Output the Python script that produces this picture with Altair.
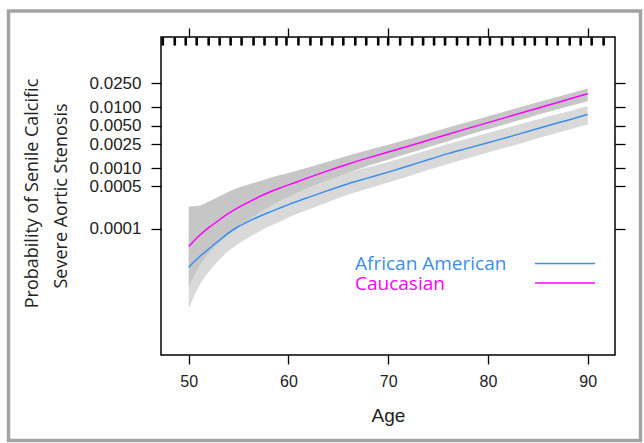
import altair as alt
import pandas as pd

# ---- data (log10 of probability) ----
ages = [50, 51, 52, 53, 54, 55, 56, 57, 58, 59, 60, 62, 64, 66, 68, 70, 72, 74, 76, 78, 80, 82, 84, 86, 88, 90]

cau_fit = [-4.29, -4.12, -3.98, -3.86, -3.745, -3.645, -3.56, -3.475, -3.40, -3.335, -3.275, -3.155, -3.04, -2.93,
           -2.83, -2.735, -2.64, -2.54, -2.44, -2.345, -2.25, -2.155, -2.06, -1.965, -1.87, -1.774]
cau_hi = [-3.63, -3.62, -3.55, -3.47, -3.39, -3.32, -3.27, -3.22, -3.165, -3.12, -3.08, -2.99, -2.89, -2.79, -2.70,
          -2.615, -2.525, -2.43, -2.33, -2.24, -2.145, -2.055, -1.96, -1.87, -1.78, -1.69]
cau_lo = [-4.95, -4.63, -4.40, -4.24, -4.09, -3.96, -3.85, -3.74, -3.64, -3.55, -3.47, -3.32, -3.195, -3.075, -2.96,
          -2.86, -2.76, -2.655, -2.555, -2.455, -2.36, -2.265, -2.17, -2.075, -1.985, -1.896]

aa_fit = [-4.63, -4.47, -4.33, -4.195, -4.065, -3.96, -3.875, -3.80, -3.73, -3.665, -3.60, -3.48, -3.365, -3.255,
          -3.16, -3.065, -2.965, -2.86, -2.76, -2.67, -2.58, -2.49, -2.395, -2.30, -2.21, -2.116]
aa_hi = [-3.95, -3.99, -3.95, -3.86, -3.76, -3.68, -3.615, -3.55, -3.495, -3.445, -3.39, -3.28, -3.17, -3.07, -2.985,
         -2.90, -2.80, -2.70, -2.60, -2.51, -2.42, -2.33, -2.24, -2.15, -2.065, -1.98]
aa_lo = [-5.31, -4.95, -4.71, -4.52, -4.36, -4.24, -4.14, -4.05, -3.965, -3.89, -3.81, -3.68, -3.555, -3.435, -3.335,
         -3.235, -3.135, -3.03, -2.93, -2.835, -2.74, -2.65, -2.555, -2.46, -2.37, -2.28]

rug_ages = [47.4, 48.6, 49.7, 50.8, 52.0, 53.1, 54.2, 55.3, 56.5, 57.6, 58.8, 59.8, 61.0, 62.2, 63.3, 64.4, 65.5,
            66.7, 67.8, 69.0, 70.0, 71.2, 72.4, 73.5, 74.6, 75.7, 76.9, 78.0, 79.2, 80.2, 81.4, 82.5, 83.7, 84.7,
            85.9, 87.0, 88.2, 89.3, 90.4, 91.6]

groups = ["African American", "Caucasian"]
line_colors = ["#3a8ef0", "#ff00ff"]
x_ticks = [50, 60, 70, 80, 90]
y_ticks = [0.0001, 0.0005, 0.001, 0.0025, 0.005, 0.01, 0.025]
y_title_lines = ["Probability of Senile Calcific", "Severe Aortic Stenosis"]

# ---- tables ----
rows = []
for g, fit, lo, hi in [("African American", aa_fit, aa_lo, aa_hi), ("Caucasian", cau_fit, cau_lo, cau_hi)]:
    for a, f, l, h in zip(ages, fit, lo, hi):
        rows.append({"age": a, "group": g, "fit": 10 ** f, "lo": 10 ** l, "hi": 10 ** h})
df = pd.DataFrame(rows)
rug_df = pd.DataFrame({"age": rug_ages})
one_df = pd.DataFrame({"k": [0]})

W, H = 454, 318
L, T = 161, 37
x_scale = alt.Scale(domain=[47.22, 92.74], nice=False, zero=False)
y_scale = alt.Scale(type="log", domain=[8.4e-7, 0.1445], nice=False)

axis_common = dict(domain=False, grid=False, tickColor="black", tickWidth=1.3)

x_bottom = alt.Axis(values=x_ticks, orient="bottom", tickSize=9, labelFont="Liberation Sans", labelFontSize=16,
                    labelColor="#222", labelPadding=9, titleFont="Liberation Sans", titleFontSize=19,
                    titleFontWeight="normal", titleColor="#222", titleY=66, titleBaseline="alphabetic",
                    **axis_common)
y_left = alt.Axis(values=y_ticks, orient="left", format=".4f", tickSize=10, labelFont="Liberation Sans",
                  labelFontSize=17, labelColor="#222", labelPadding=10, **axis_common)
x_top = alt.Axis(values=x_ticks, orient="top", tickSize=9, labels=False, **axis_common)
y_right = alt.Axis(values=y_ticks, orient="right", tickSize=10, labels=False, **axis_common)

frame = alt.Chart(one_df).mark_rect(fillOpacity=0, stroke="#a3a3a3", strokeWidth=3.5).encode(
    x=alt.value(8.5 - L), x2=alt.value(640.5 - L), y=alt.value(11 - T), y2=alt.value(440.5 - T))

band_aa = alt.Chart(df).transform_filter(alt.datum.group == "African American").mark_area(
    color="#d9d9d9", interpolate="monotone").encode(
    x=alt.X("age:Q", scale=x_scale, axis=x_bottom, title="Age"),
    y=alt.Y("lo:Q", scale=y_scale, axis=y_left, title=None),
    y2="hi:Q")

band_cau = alt.Chart(df).transform_filter(alt.datum.group == "Caucasian").mark_area(
    color="#c6c6c6", interpolate="monotone").encode(
    x=alt.X("age:Q", scale=x_scale, axis=x_top, title=None),
    y=alt.Y("lo:Q", scale=y_scale, axis=y_right, title=None),
    y2="hi:Q")

lines = alt.Chart(df).mark_line(strokeWidth=1.5, interpolate="monotone").encode(
    x=alt.X("age:Q", scale=x_scale, axis=None),
    y=alt.Y("fit:Q", scale=y_scale, axis=None),
    color=alt.Color("group:N", scale=alt.Scale(domain=groups, range=line_colors), legend=None),
    detail="group:N")

rug = alt.Chart(rug_df).mark_rule(color="black", strokeWidth=2.6, strokeCap="round").encode(
    x=alt.X("age:Q", scale=x_scale, axis=None),
    y=alt.value(1.5), y2=alt.value(7.5))

legend_layers = []
leg_text_y = [264, 283.5]
leg_rule_y = [263.5, 283]
for i, (g, c) in enumerate(zip(groups, line_colors)):
    legend_layers.append(alt.Chart(one_df).mark_text(
        text=g, align="left", baseline="middle", font="Open Sans", fontSize=19, color=c).encode(
        x=alt.value(355 - L), y=alt.value(leg_text_y[i] - T)))
    legend_layers.append(alt.Chart(one_df).mark_rule(strokeWidth=1.5, color=c).encode(
        x=alt.value(535 - L), x2=alt.value(595 - L), y=alt.value(leg_rule_y[i] - T)))

title_layers = []
title_x = [33, 62]
title_y = [193.5, 196]
for i, t in enumerate(y_title_lines):
    title_layers.append(alt.Chart(one_df).mark_text(
        text=t, angle=270, align="center", baseline="middle", font="Open Sans", fontSize=18,
        color="#222").encode(x=alt.value(title_x[i] - L), y=alt.value(title_y[i] - T)))

chart = alt.layer(frame, band_aa, band_cau, lines, rug, *legend_layers, *title_layers).resolve_axis(
    x="independent", y="independent").properties(
    width=W, height=H, background="white",
    autosize=alt.AutoSizeParams(type="none"),
    padding={"left": L, "top": T, "right": 644 - L - W, "bottom": 443 - T - H},
).configure_view(stroke="black", strokeWidth=1.5)

chart.save("out.html", embed_options={"renderer": "svg", "actions": False})
